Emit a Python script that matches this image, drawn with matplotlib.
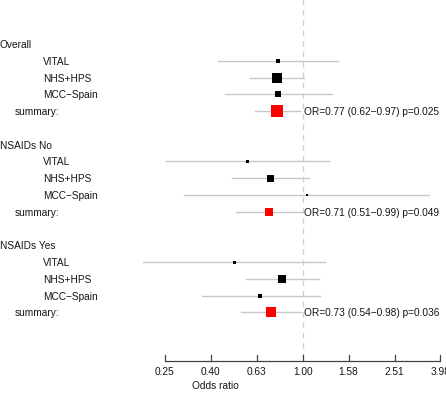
import numpy as np
import matplotlib
matplotlib.use("Agg")
import matplotlib.pyplot as plt

plt.rcParams['font.family'] = ['Liberation Sans', 'DejaVu Sans']

groups = ["Overall", "NSAIDs No", "NSAIDs Yes"]
studies = ["VITAL", "NHS+HPS", "MCC\u2212Spain"]

# odds ratios and 95% CI per study (rows: groups, cols: studies)
or_est = [[0.78, 0.775, 0.78],
          [0.574, 0.72, 1.04],
          [0.503, 0.815, 0.651]]
ci_low = [[0.429, 0.589, 0.459],
          [0.253, 0.49, 0.305],
          [0.202, 0.565, 0.363]]
ci_high = [[1.43, 1.013, 1.34],
           [1.30, 1.07, 3.56],
           [1.25, 1.18, 1.19]]
# relative study weights (box size)
weights = [[5, 10, 6],
           [3, 7, 2],
           [3, 8, 5]]

sum_or = [0.77, 0.71, 0.73]
sum_low = [0.62, 0.51, 0.54]
sum_high = [0.97, 0.99, 0.98]
sum_p = ["0.025", "0.049", "0.036"]
sum_weight = [12, 8, 10]

tick_vals = [0.25, 0.398, 0.631, 1.0, 1.585, 2.512, 3.981]
tick_labels = ["0.25", "0.40", "0.63", "1.00", "1.58", "2.51", "3.98"]

W, H = 446, 410
fig = plt.figure(figsize=(W / 100, H / 100), dpi=100)
ax = fig.add_axes([0, 0, 1, 1])
ax.set_xscale('log')
px_per_dec = 229.5
x0 = 302.7
ax.set_xlim(10 ** ((0 - x0) / px_per_dec), 10 ** ((W - x0) / px_per_dec))
row_h = 16.77
top = 45.0
ax.set_ylim((H - top) / row_h, -top / row_h)
ax.axis('off')

pt = 72 / 100.0  # px -> points
fs = 7.3
grey = '#c8c8c8'
txtc = '#151515'

# reference line
ax.plot([1, 1], [-3, 18.6], ls=(0, (4, 3.5)), color='#d0d0d0', lw=1.0, zorder=1)

from matplotlib.transforms import blended_transform_factory
tr = blended_transform_factory(fig.transFigure, ax.transData)

for g, gname in enumerate(groups):
    base = g * 6
    ax.text(0 / W, base, gname, transform=tr, fontsize=fs, va='center', ha='left', color=txtc)
    for s, sname in enumerate(studies):
        r = base + 1 + s
        ax.text(43.3 / W, r, sname, transform=tr, fontsize=fs, va='center', ha='left', color=txtc)
        ax.plot([ci_low[g][s], ci_high[g][s]], [r, r], color=grey, lw=1.0, zorder=2)
        ax.plot([or_est[g][s]], [r], marker='s', color='black', ms=weights[g][s] * pt,
                mew=0, ls='none', zorder=3)
    r = base + 4
    ax.text(15 / W, r, "summary:", transform=tr, fontsize=fs, va='center', ha='left', color=txtc)
    ax.plot([sum_low[g], sum_high[g]], [r, r], color=grey, lw=1.0, zorder=2)
    ax.plot([sum_or[g]], [r], marker='s', color='#ff0000', ms=sum_weight[g] * pt,
            mew=0, ls='none', zorder=3)
    ax.text(1.013, r,
            f"OR={sum_or[g]:.2f} ({sum_low[g]:.2f}\u2212{sum_high[g]:.2f}) p={sum_p[g]}",
            fontsize=fs, va='center', ha='left', color=txtc)

# x axis
axis_row = (361.7 - top) / row_h
ax.plot([tick_vals[0], tick_vals[-1]], [axis_row, axis_row], color='#444444', lw=0.9,
        solid_capstyle='butt', clip_on=False)
tick_len = 5.5 / row_h
for v, lab in zip(tick_vals, tick_labels):
    ax.plot([v, v], [axis_row, axis_row - tick_len], color='#444444', lw=0.9, clip_on=False)
    ax.text(v, (372 - top) / row_h, lab, fontsize=fs, ha='center', va='center',
            color=txtc, clip_on=False)
ax.text(191.5 / W, (386 - top) / row_h, "Odds ratio", transform=tr, fontsize=fs,
        ha='left', va='center', color=txtc)

fig.savefig("out.png", dpi=100)
